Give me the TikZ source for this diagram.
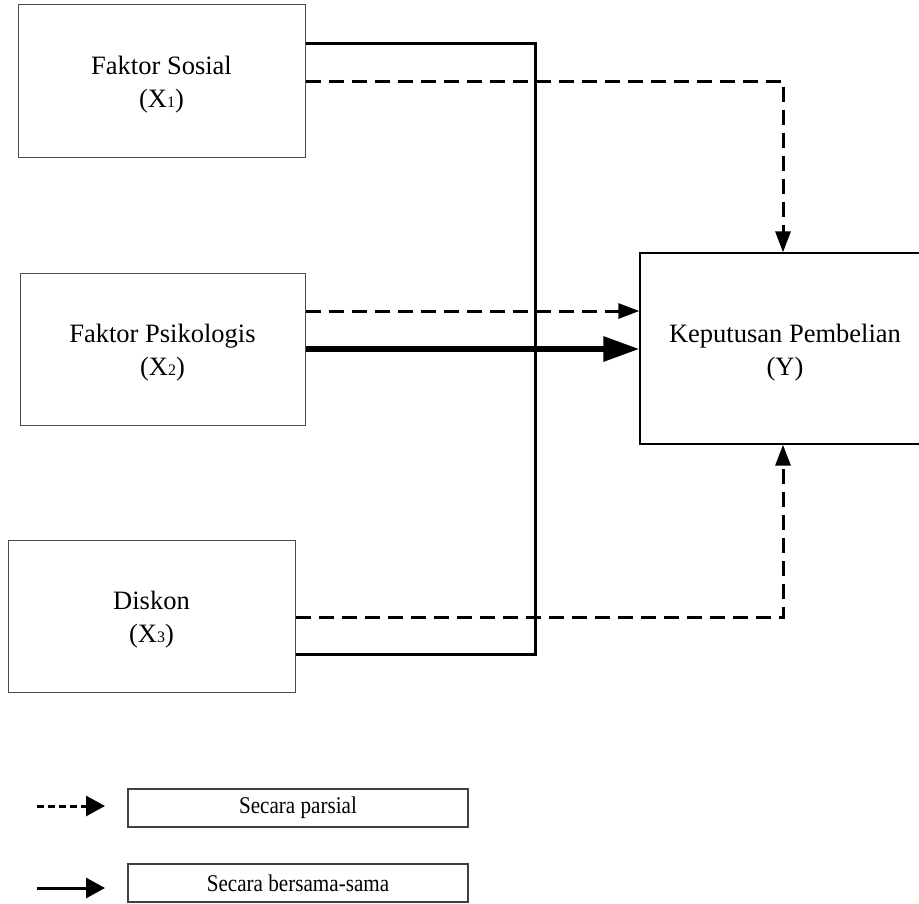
\documentclass[tikz,border=0pt]{standalone}
\usepackage{fontspec}
\usepackage{graphicx}
\setmainfont{Liberation Serif}
\usetikzlibrary{arrows.meta}
\tikzset{
  box/.style={draw=black!70, line width=1pt, minimum width=#1, inner sep=0pt},
  boxtext/.style={align=center, font=\fontsize{26.5}{33}\selectfont, yshift=-4pt, inner sep=0pt},
  legbox/.style={draw=black!75, line width=1.2pt, minimum width=340pt, minimum height=38pt, inner sep=0pt,
              font=\fontsize{24}{26}\selectfont},
  solidline/.style={line width=3pt},
  dashline/.style={line width=3pt, dash pattern=on 15pt off 8pt},
  dtip/.style={-{Triangle[length=21pt,width=15pt]}},
  thicktip/.style={-{Triangle[length=36pt,width=24pt]}},
}
\newcommand{\subsm}[1]{{\fontsize{16}{16}\selectfont #1}}
\begin{document}
\begin{tikzpicture}[x=1pt,y=-1pt]
\useasboundingbox (0,0) rectangle (919,903);
\clip (0,0) rectangle (919,903);
% boxes
\node[box=287pt, minimum height=153pt, label={[boxtext]center:Faktor Sosial\\(X\subsm{1})}] (x1) at (161.5,80.5) {};
\node[box=285pt, minimum height=152pt, label={[boxtext]center:Faktor Psikologis\\(X\subsm{2})}] (x2) at (162.5,349) {};
\node[box=287pt, minimum height=152pt, label={[boxtext]center:Diskon\\(X\subsm{3})}] (x3) at (151.5,616) {};
\node[box=290pt, minimum height=191pt, draw=black, line width=1.3pt, label={[boxtext]center:Keputusan Pembelian\\(Y)}] (yy) at (785,348.5) {};
% joint coordinate
\coordinate (jv) at (535,300);
% simultaneous (solid) path
\draw[solidline] ([yshift=37.5pt]x1.east) -| (jv) |- ([yshift=-38pt]x3.east);
% partial dashed
\draw[dashline, dtip] ([yshift=-0.5pt]x1.east) -| ([xshift=-2pt]yy.north);
\draw[dashline, dtip] ([yshift=38pt]x2.east) -- ([yshift=38pt]x2.east -| yy.west);
\draw[dashline, dtip] ([yshift=-1pt]x3.east) -| ([xshift=-2pt]yy.south);
% thick solid
\draw[line width=6pt, thicktip] (x2.east) -- (x2.east -| yy.west);
% legend
\node[legbox] (lp) at (298,808) {\scalebox{0.88}[1]{Secara parsial}};
\node[legbox] (lb) at (298,883) {\scalebox{0.88}[1]{Secara bersama-sama}};
\coordinate (lps) at (37,806);
\coordinate (lbs) at (37,888);
\draw[line width=3pt, dash pattern=on 7pt off 4pt, -{Triangle[length=19pt,width=20pt]}] (lps) -- (lps -| 105,0);
\draw[line width=3pt, -{Triangle[length=19pt,width=20pt]}] (lbs) -- (lbs -| 105,0);
\end{tikzpicture}
\end{document}
